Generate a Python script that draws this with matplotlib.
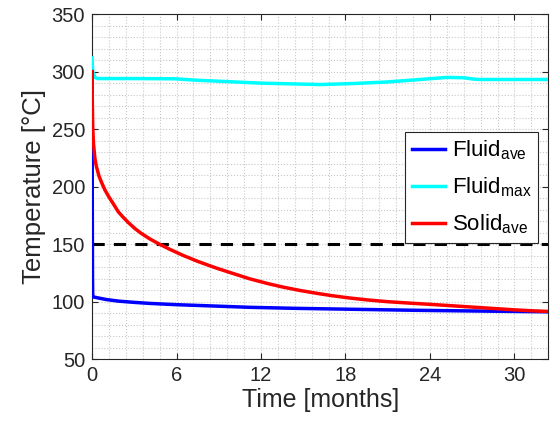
import matplotlib
matplotlib.use("Agg")
import matplotlib.pyplot as plt
from matplotlib.ticker import MultipleLocator

plt.rcParams['font.family'] = ['Liberation Sans', 'DejaVu Sans']
plt.rcParams['mathtext.fontset'] = 'custom'
plt.rcParams['mathtext.rm'] = 'Liberation Sans'
plt.rcParams['mathtext.it'] = 'Liberation Sans'

# Datos (meses, °C)
t_fluid_ave = [0, 0.01, 0.02, 0.035, 0.05, 0.1, 0.5, 1.0, 1.87, 3.0, 4.1, 6.0, 8.96, 11.2, 14.5, 18.5, 23.0, 27.9, 32.6]
fluid_ave = [300, 250, 180, 120, 106, 104, 103, 101.8, 100.4, 99.3, 98.4, 97.3, 96, 95, 94.1, 93.3, 92.4, 91.7, 91.1]

t_fluid_max = [0, 0.05, 0.2, 0.4, 3, 5.9, 7.5, 9, 12, 16.2, 18.6, 20.9, 23.3, 25.2, 26.4, 27.1, 27.5, 32.6]
fluid_max = [312, 300, 295, 294, 294, 293.8, 292.5, 291.7, 290, 288.8, 289.7, 291, 293.2, 295, 294.7, 293.5, 293.2, 293.2]

t_solid_ave = [0, 0.02, 0.05, 0.1, 0.2, 0.3, 0.5, 0.7, 0.92, 1.2, 1.5, 1.87, 2.2, 2.6, 3.05, 3.5, 4.12, 4.75,
               5.5, 6.5, 7.5, 8.86, 10, 11.2, 12.5, 13.6, 14.8, 16.0, 17, 18.3, 19.5, 21, 22.5, 24, 25.5, 27,
               28.5, 30, 31.2, 32.6]
solid_ave = [300, 275, 252, 238, 225, 218, 209, 203, 197, 191, 185.3, 178, 173.5, 168.5, 163.5, 159.3, 154.4, 150.2,
             145.6, 140, 135, 129, 124.5, 119.8, 115.6, 112.5, 109.6, 107.1, 105.2, 103.1, 101.5, 99.9, 98.7, 97.6,
             96.4, 95.2, 94, 92.8, 92, 91.3]

limite = 150

fig = plt.figure(figsize=(5.51, 4.30), dpi=100)
ax = fig.add_axes([0.167, 0.165, 0.828, 0.802])

ax.plot(t_fluid_ave, fluid_ave, color='#0000ff', lw=2.5, label='Fluid$_{\\mathrm{ave}}$', zorder=4)
ax.plot(t_fluid_max, fluid_max, color='#00ffff', lw=2.5, label='Fluid$_{\\mathrm{max}}$', zorder=3)
ax.plot(t_solid_ave, solid_ave, color='#ff0000', lw=2.5, label='Solid$_{\\mathrm{ave}}$', zorder=5)
ax.axhline(limite, color='black', lw=2.2, dashes=(4, 3), zorder=2)

ax.set_xlim(0, 32.4)
ax.set_ylim(50, 350)
ax.xaxis.set_major_locator(MultipleLocator(6))
ax.xaxis.set_minor_locator(MultipleLocator(1.2))
ax.yaxis.set_major_locator(MultipleLocator(50))
ax.yaxis.set_minor_locator(MultipleLocator(10))

ax.grid(which='both', color='#c8c8c8', linestyle=':', linewidth=0.8)
ax.set_axisbelow(True)
ax.tick_params(which='major', direction='in', length=4, width=0.8, top=True, right=True,
               labelsize=14.5, colors='#262626', pad=5)
ax.tick_params(which='minor', length=0, top=True, right=True)
for s in ax.spines.values():
    s.set_color('#262626')
    s.set_linewidth(0.8)

ax.set_xlabel('Time [months]', fontsize=18, color='#262626', labelpad=2)
ax.set_ylabel('Temperature [°C]', fontsize=18.5, color='#262626', labelpad=4)

leg = ax.legend(loc='upper right', bbox_to_anchor=(0.978, 0.658), fontsize=16,
                handlelength=1.5, handletextpad=0.3, borderpad=0.3, labelspacing=0.6,
                borderaxespad=0, fancybox=False, framealpha=1, edgecolor='#262626')
leg.get_frame().set_linewidth(0.8)

fig.savefig('out.png', dpi=100)
